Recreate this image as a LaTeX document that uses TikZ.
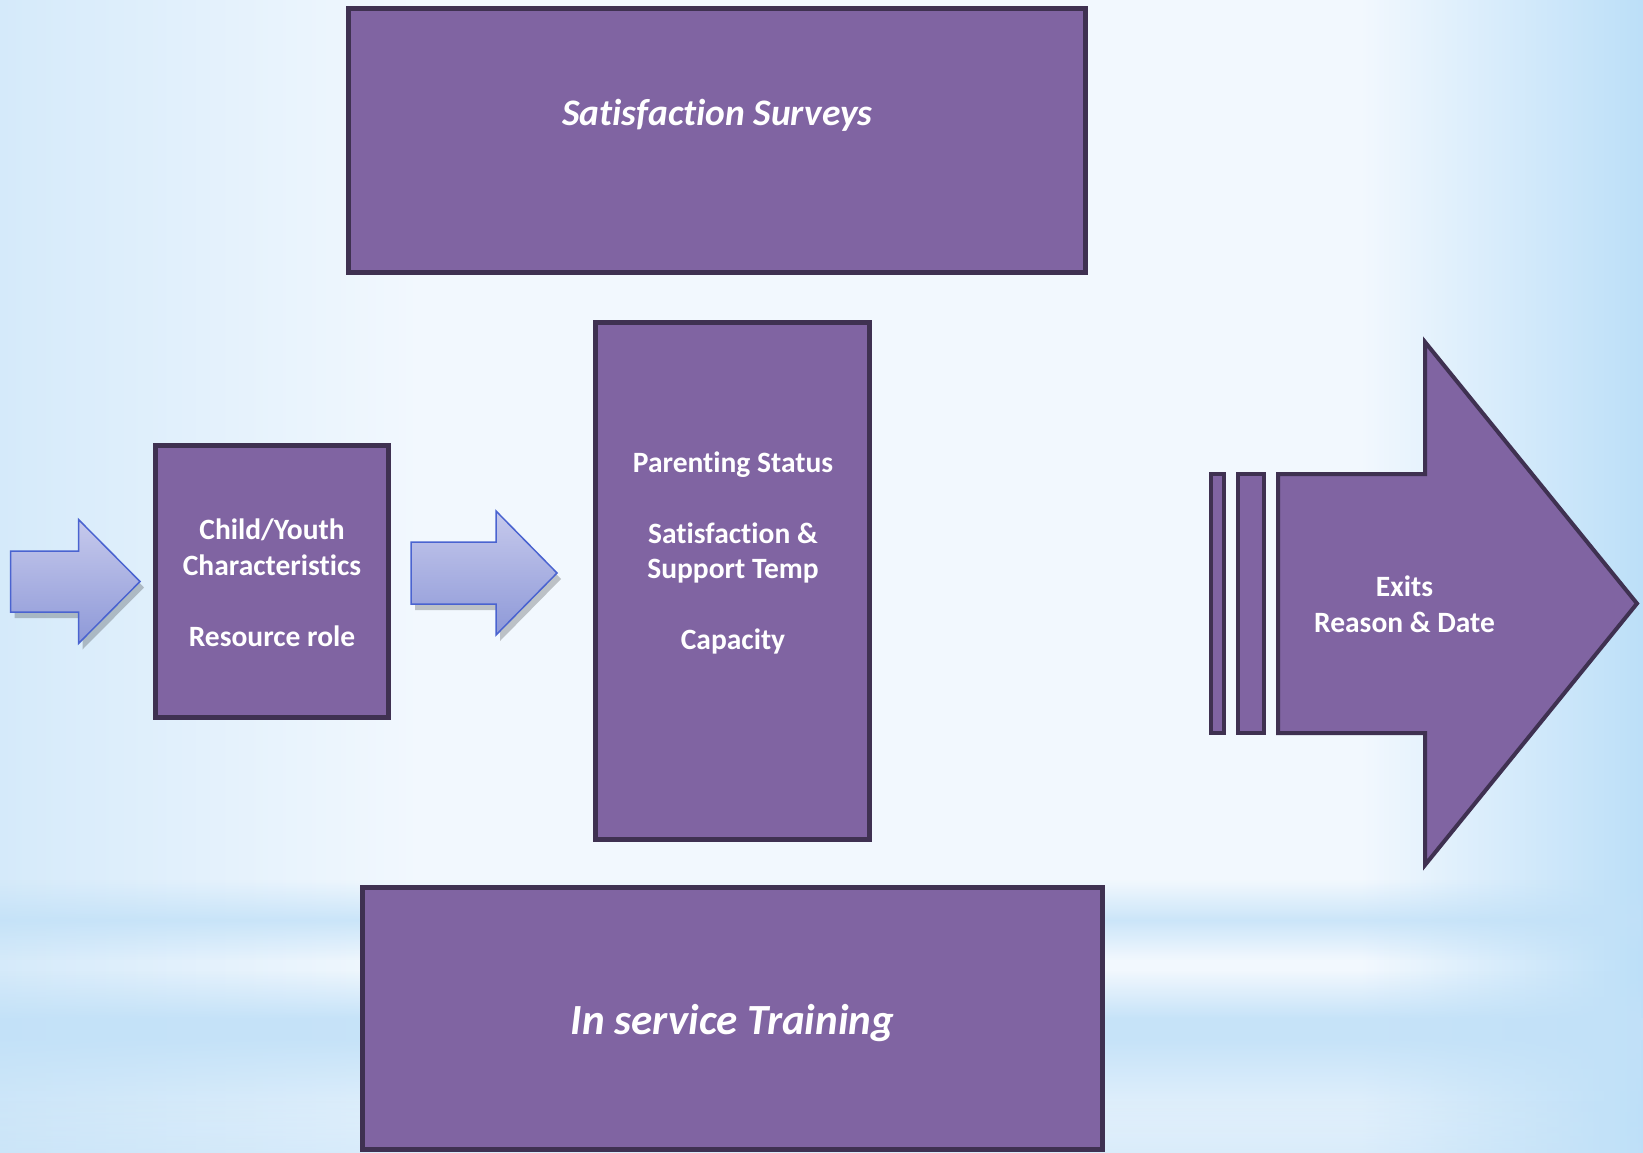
\documentclass[tikz,border=0pt]{standalone}
\usepackage{fontspec}
\setmainfont[RawFeature={-liga;-clig;-calt;-dlig}]{Carlito}
\usetikzlibrary{shadows,fadings}
\newcommand\myti{t\kern0pt i}
\definecolor{boxfill}{HTML}{8064A2}
\definecolor{boxline}{HTML}{3F3151}
\definecolor{bgc}{HTML}{F2F8FE}
\definecolor{bgl}{HTML}{D5EAFA}
\definecolor{bgr}{HTML}{BCDFF8}
\definecolor{band}{HTML}{C2E1F8}
\definecolor{arrtop}{HTML}{C6C9EC}
\definecolor{arrbot}{HTML}{8E99D8}
\definecolor{arrline}{HTML}{4A63D0}
\tikzfading[name=bandfade, top color=transparent!100, bottom color=transparent!100, middle color=transparent!0]
\begin{document}
\begin{tikzpicture}[x=1pt,y=-1pt,
  box/.style={draw=boxline, fill=boxfill, line width=4.5pt, inner sep=0pt, rectangle},
  boxtext/.style={text=white, font=\fontsize{29.5}{35.5}\selectfont\bfseries, align=center, inner sep=0pt},
  titletext/.style={text=white, font=\fontsize{37.5}{44}\selectfont\bfseries\itshape, inner sep=0pt},
  titletextbig/.style={text=white, font=\fontsize{43}{50}\selectfont\bfseries\itshape, inner sep=0pt},
  blockarrow/.style={top color=arrtop, bottom color=arrbot, draw=arrline, line width=1.5pt, line join=miter,
     drop shadow={shadow xshift=4pt, shadow yshift=-6pt, opacity=0.22, fill=black}},
  exitshape/.style={fill=boxfill, draw=boxline, line width=4pt, line join=miter}]
\useasboundingbox (0,0) rectangle (1643,1153);
% background
\fill[bgc] (0,0) rectangle (1643,1153);
\shade[left color=bgl, right color=bgc] (0,0) rectangle (420,1153);
\shade[left color=bgc, right color=bgr] (1360,0) rectangle (1643,1153);
\fill[band, path fading=bandfade, opacity=0.8] (0,880) rectangle (1643,960);
\fill[band, path fading=north, opacity=0.9] (0,970) rectangle (1643,1018);
\fill[band, opacity=0.9] (0,1018) rectangle (1643,1040);
\fill[band, path fading=south, opacity=0.9] (0,1040) rectangle (1643,1153);
\fill[band, path fading=north, opacity=0.5] (0,1100) rectangle (1643,1153);
% boxes
\node[box, minimum width=737pt, minimum height=264pt] (surveys) at (717,140.5) {};
\node[titletext, anchor=base] (surveystxt) at (717.5,125) {Satisfac\myti on Surveys};
\node[box, minimum width=233pt, minimum height=272pt] (child) at (272,581.5) {};
\node[boxtext] (childtxt) at (272,583) {Child/Youth\\Characteris\myti cs\\[35.5pt]Resource role};
\node[box, minimum width=274pt, minimum height=517pt] (mid) at (732.5,581) {};
\node[boxtext] (midtxt) at (733,553) {Parenting Status\\[35.5pt]Satisfac\myti on \&\\Support Temp\\[35.5pt]Capacity};
\node[box, minimum width=740pt, minimum height=262pt] (training) at (732.5,1018.5) {};
\node[titletextbig, anchor=base] (trainingtxt) at (732.5,1034) {In service Training};
% block arrows
\draw[blockarrow] (10.5,551) -- (78.5,551) -- (78.5,519.5) -- (140,581.5) -- (78.5,643.5) -- (78.5,612) -- (10.5,612) -- cycle;
\draw[blockarrow] (411,542) -- (496,542) -- (496,511) -- (557,573) -- (496,635) -- (496,604) -- (411,604) -- cycle;
% exit arrow
\draw[exitshape] (1211,474) rectangle (1224,733);
\draw[exitshape] (1238,474) rectangle (1264,733);
\draw[exitshape] (1278,474) -- (1425,474) -- (1425,342) -- (1637,603.5) -- (1425,865) -- (1425,733) -- (1278,733) -- cycle;
\node[boxtext] (exittxt) at (1404.5,604.5) {Exits\\Reason \& Date};
\end{tikzpicture}
\end{document}
